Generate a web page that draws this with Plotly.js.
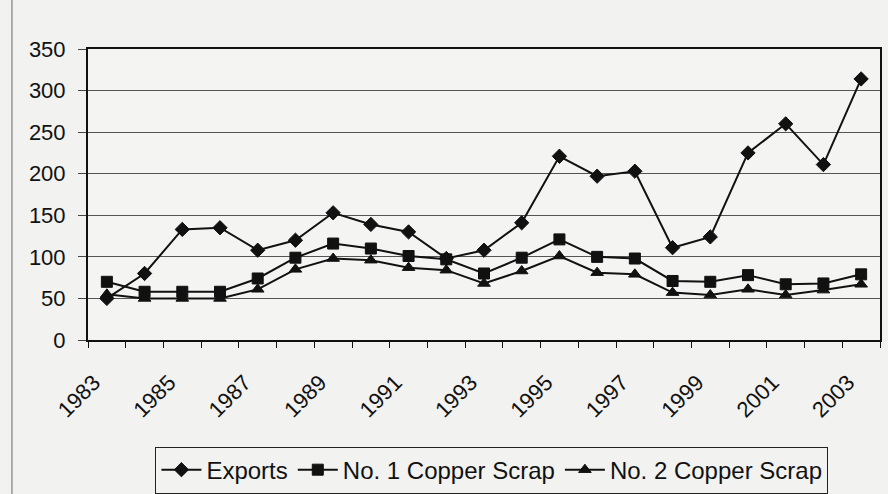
<!DOCTYPE html>
<html>
<head>
<meta charset="utf-8">
<script src="https://cdn.plot.ly/plotly-3.0.1.min.js"></script>
<style>html,body{margin:0;padding:0;background:#f2f2f0;}#chart{width:888px;height:494px;}</style>
</head>
<body>
<div id="chart"></div>
<script>
var years = [1983,1984,1985,1986,1987,1988,1989,1990,1991,1992,1993,1994,1995,1996,1997,1998,1999,2000,2001,2002,2003];
var exportsVals = [50,80,133,135,108,120,153,139,130,98,108,141,221,197,203,111,124,225,260,211,314];
var copper1 = [70,58,58,58,74,99,116,110,101,97,80,99,121,100,98,71,70,78,67,68,79];
var copper2 = [55,50,50,50,61,85,98,96,87,84,68,83,101,81,79,57,54,61,54,60,67];
var tickYears = [1983,1985,1987,1989,1991,1993,1995,1997,1999,2001,2003];
var tickLabels = ['1983','1985','1987','1989','1991','1993','1995','1997','1999','2001','2003'];
var seriesNames = ['Exports','No. 1 Copper Scrap','No. 2 Copper Scrap'];

var boundaries = [];
for (var i = 0; i <= years.length; i++) boundaries.push(years[0] - 0.5 + i);

function tr(name, y, sym) {
  return {x: years, y: y, name: name, type: 'scatter', mode: 'lines+markers',
    line: {color: '#111', width: 2},
    marker: {symbol: sym, size: 11, color: '#111', line: {color: '#111', width: 1}}};
}
var data = [
  tr(seriesNames[0], exportsVals, 'diamond'),
  tr(seriesNames[1], copper1, 'square'),
  tr(seriesNames[2], copper2, 'triangle-up')
];
var font = {family: 'Liberation Sans, Arial, sans-serif', size: 22, color: '#111'};
var legFont = {family: 'Liberation Sans, Arial, sans-serif', size: 24, color: '#111'};
var layout = {
  width: 888, height: 494,
  margin: {l: 88, r: 8, t: 49, b: 154, autoexpand: false},
  paper_bgcolor: '#f2f2f0', plot_bgcolor: '#f4f4f2',
  font: font,
  showlegend: true,
  legend: {orientation: 'h', x: 0.51, xanchor: 'center', y: -0.447, yanchor: 'middle',
    bordercolor: '#222', borderwidth: 1, bgcolor: 'rgba(0,0,0,0)', font: legFont,
    itemwidth: 40, tracegroupgap: 0},
  xaxis: {range: [years[0] - 0.5, years[years.length - 1] + 0.5], tickmode: 'array',
    tickvals: tickYears, ticktext: tickLabels, tickangle: -45, ticks: '', showgrid: false,
    zeroline: false, showline: true, linecolor: '#111', linewidth: 2, mirror: true,
    ticklabelstandoff: 19, ticklabelshift: -13, automargin: false,
    minor: {tickmode: 'array', tickvals: boundaries, ticks: 'outside', ticklen: 6, tickcolor: '#111', tickwidth: 1, showgrid: false},
    tickfont: font, fixedrange: true},
  yaxis: {range: [0, 350], dtick: 50, tick0: 0, ticks: 'outside', ticklen: 8, tickcolor: '#444', tickwidth: 1,
    showgrid: true, gridcolor: '#555', gridwidth: 1, zeroline: false, automargin: false,
    showline: true, linecolor: '#111', linewidth: 2, mirror: true, ticklabelstandoff: 8,
    tickfont: font, fixedrange: true},
  shapes: [
    {type: 'line', xref: 'paper', yref: 'paper', x0: -0.096, x1: -0.096, y0: -0.53, y1: 1.17, line: {color: '#666', width: 1}}
  ]
};
Plotly.newPlot('chart', data, layout, {displayModeBar: false, staticPlot: true});
</script>
</body>
</html>
